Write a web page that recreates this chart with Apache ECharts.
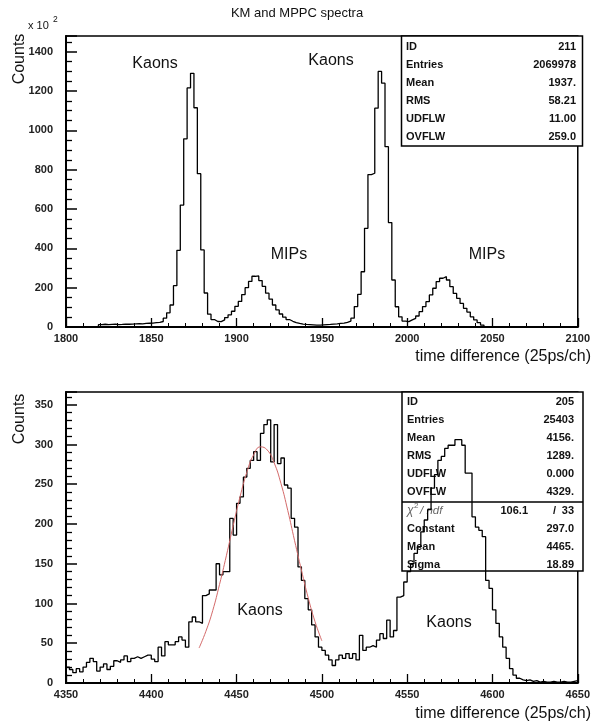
<!DOCTYPE html>
<html>
<head>
<meta charset="utf-8">
<script src="https://cdn.jsdelivr.net/npm/echarts@6/dist/echarts.min.js"></script>
<style>
html, body { margin: 0; padding: 0; background: #fff; }
#chart { width: 593px; height: 727px; }
</style>
</head>
<body>
<div id="chart"></div>
<script>
// both spectra use bins of 2 channels
const binWidth = 2

// upper spectrum (ID 211), counts in units of 10^2, first bin edge 1819
const topBinStart = 1819
const topCounts = [
  12, 14, 12, 13, 14, 12, 13, 15, 14, 15, 16, 17, 16, 18, 19, 20, 22, 24, 28, 45,
  72, 112, 210, 390, 620, 957, 1216, 1290, 1115, 780, 392, 173, 65, 38, 28,
  27, 36, 48, 62, 80, 105, 130, 165, 200, 232, 258, 260, 236, 207, 172, 142, 112, 87, 66, 50, 38, 29, 22,
  18, 15, 13, 12, 11, 10, 10, 11, 12, 13, 15, 16, 18, 20, 24, 30, 45,
  104, 166, 281, 502, 775, 782, 1113, 1300, 1240, 917, 531, 239, 103, 52, 30,
  27, 36, 44, 56, 78, 104, 129, 163, 197, 231, 248, 256, 239, 205, 171, 146, 120, 95, 76, 52, 36, 22, 10
]

// lower spectrum (ID 205), first bin edge 4350
const lowBinStart = 4350
const lowCounts = [
  20, 17, 13, 18, 14, 20, 26, 31, 27, 15, 20, 24, 17, 21, 28, 26, 29, 34, 27, 31,
  33, 31, 33, 35, 35, 30, 27, 45, 34, 52, 48, 48, 52, 58, 54, 45, 77, 83, 77, 75,
  110, 112, 117, 117, 150, 136, 140, 140, 207, 186, 226, 234, 259, 270, 280, 291, 280, 314, 325, 331,
  278, 325, 276, 283, 249, 245, 207, 196, 146, 129, 106, 92, 73, 58, 45, 41, 35, 29, 22, 29,
  35, 31, 37, 31, 37, 29, 60, 41, 45, 47, 45, 54, 62, 56, 79, 58, 66, 108, 110, 127,
  140, 150, 163, 171, 190, 205, 218, 245, 262, 280, 285, 295, 299, 299, 306, 306, 299, 264, 264, 209,
  196, 192, 184, 129, 119, 92, 75, 58, 45, 31, 18, 10, 6, 4, 3, 4, 2, 3, 1, 2,
  1, 1, 2, 1, 1, 2, 1, 1, 2, 3
]

// gaussian fit drawn over the first kaon peak
const fitX = [4428, 4432, 4436, 4440, 4444, 4448, 4452, 4456, 4460, 4464, 4468, 4472, 4476, 4480, 4484, 4488, 4492, 4496, 4500]
const fitY = [44, 65, 91, 124, 160, 198, 234, 265, 287, 297, 293, 277, 251, 217, 179, 142, 107, 77, 53]

const topStats = [['ID', '211'], ['Entries', '2069978'], ['Mean', '1937.'], ['RMS', '58.21'], ['UDFLW', '11.00'], ['OVFLW', '259.0']]
const lowStats = [['ID', '205'], ['Entries', '25403'], ['Mean', '4156.'], ['RMS', '1289.'], ['UDFLW', '0.000'], ['OVFLW', '4329.']]
const fitStats = [['Constant', '297.0'], ['Mean', '4465.'], ['Sigma', '18.89']]

const FONT = '"Liberation Sans", Arial, sans-serif'

function hist(start, counts) {
  const pts = [[start, 0]]
  counts.forEach((v, i) => pts.push([start + i * binWidth, v]))
  pts.push([start + counts.length * binWidth, 0])
  return pts
}

function txt(x, y, text, font, align, extra) {
  const el = {
    type: 'text', x: x, y: y, z: 1,
    style: {
      text: text, font: font + ' ' + FONT, fill: '#111',
      align: align || 'left', textAlign: align || 'left',
      verticalAlign: 'middle', textVerticalAlign: 'middle'
    }
  }
  return Object.assign(el, extra || {})
}

function box(x, y, w, h) {
  return { type: 'rect', z: 1, shape: { x: x, y: y, width: w, height: h },
    style: { fill: '#fff', stroke: '#000', lineWidth: 1.5 } }
}

function statRows(rows, y0, left, right) {
  const out = []
  rows.forEach((r, i) => {
    out.push(txt(left, y0 + i * 18, r[0], 'bold 11px'))
    out.push(txt(right, y0 + i * 18, r[1], 'bold 11px', 'right'))
  })
  return out
}

function xAx(gi, min, max) {
  return {
    type: 'value', gridIndex: gi, min: min, max: max, interval: 50,
    axisLine: { onZero: false, lineStyle: { color: '#000', width: 2 } },
    axisTick: { inside: true, length: 9, lineStyle: { color: '#000', width: 1.3 } },
    minorTick: { show: true, splitNumber: 5, length: 4, lineStyle: { color: '#000', width: 1 } },
    splitLine: { show: false },
    axisLabel: { margin: 6, fontSize: 11, fontWeight: 'bold', color: '#222', fontFamily: FONT,
      formatter: v => String(v) }
  }
}

function yAx(gi, max, step, minor) {
  return {
    type: 'value', gridIndex: gi, min: 0, max: max, interval: step,
    axisLine: { show: true, lineStyle: { color: '#000', width: 2 } },
    axisTick: { inside: true, length: 11, lineStyle: { color: '#000', width: 1.5 } },
    minorTick: { show: true, splitNumber: minor, length: 6, lineStyle: { color: '#000', width: 1.3 } },
    splitLine: { show: false },
    axisLabel: { margin: 13, fontSize: 11, fontWeight: 'bold', color: '#222', fontFamily: FONT,
      formatter: v => (v % step === 0 ? String(v) : '') }
  }
}

const chart = echarts.init(document.getElementById('chart'))

const graphics = [
  txt(297, 13, 'KM and MPPC spectra', '13px', 'center'),
  txt(28, 26, 'x 10', '11px'),
  txt(53, 20, '2', '8.5px'),
  txt(20, 59, 'Counts', '16px', 'center', { rotation: Math.PI / 2 }),
  txt(20, 419, 'Counts', '16px', 'center', { rotation: Math.PI / 2 }),
  txt(591, 357, 'time difference (25ps/ch)', '16px', 'right'),
  txt(591, 714, 'time difference (25ps/ch)', '16px', 'right'),
  txt(155, 64, 'Kaons', '16px', 'center'),
  txt(331, 61, 'Kaons', '16px', 'center'),
  txt(289, 255, 'MIPs', '16px', 'center'),
  txt(487, 255, 'MIPs', '16px', 'center'),
  txt(260, 611, 'Kaons', '16px', 'center'),
  txt(449, 623, 'Kaons', '16px', 'center'),
  box(401.5, 36, 181, 110),
  box(402, 392, 181, 179),
  { type: 'line', z: 1, shape: { x1: 402, y1: 502, x2: 583, y2: 502 }, style: { stroke: '#000', lineWidth: 1.5 } }
]
  .concat(statRows(topStats, 47, 406, 576))
  .concat(statRows(lowStats, 402, 407, 574))
  .concat(statRows(fitStats, 529, 407, 574))
  .concat([
    txt(407, 511, 'χ', 'italic 12px', 'left', { style: { text: 'χ', font: 'italic 12px ' + FONT, fill: '#666', verticalAlign: 'middle' } }),
    txt(414, 506, '2', '8px', 'left', { style: { text: '2', font: '8px ' + FONT, fill: '#666', verticalAlign: 'middle' } }),
    txt(420, 511, '/ ndf', 'italic 11.5px', 'left', { style: { text: '/ ndf', font: 'italic 11.5px ' + FONT, fill: '#666', verticalAlign: 'middle' } }),
    txt(528, 511, '106.1', 'bold 11px', 'right'),
    txt(553, 511, '/', 'bold 11px', 'left'),
    txt(574, 511, '33', 'bold 11px', 'right')
  ])

chart.setOption({
  animation: false,
  backgroundColor: '#fff',
  grid: [
    { left: 66, top: 36, width: 516, height: 291, show: true, borderColor: '#000', borderWidth: 1.5 },
    { left: 66, top: 392, width: 516, height: 291, show: true, borderColor: '#000', borderWidth: 1.5 }
  ],
  xAxis: [xAx(0, 1800, 2100), xAx(1, 4350, 4650)],
  yAxis: [yAx(0, 1480, 200, 4), yAx(1, 366, 50, 5)],
  graphic: graphics,
  series: [
    {
      type: 'line', xAxisIndex: 0, yAxisIndex: 0, z: 3, step: 'end', symbol: 'none',
      lineStyle: { color: '#000', width: 1.3 },
      data: hist(topBinStart, topCounts)
    },
    {
      type: 'line', xAxisIndex: 1, yAxisIndex: 1, z: 3, step: 'end', symbol: 'none',
      lineStyle: { color: '#000', width: 1.3 },
      data: hist(lowBinStart, lowCounts).slice(1)
    },
    {
      type: 'line', xAxisIndex: 1, yAxisIndex: 1, z: 4, smooth: true, symbol: 'none',
      lineStyle: { color: '#d46a6a', width: 1 },
      data: fitX.map((x, i) => [x, fitY[i]])
    }
  ]
})
</script>
</body>
</html>
